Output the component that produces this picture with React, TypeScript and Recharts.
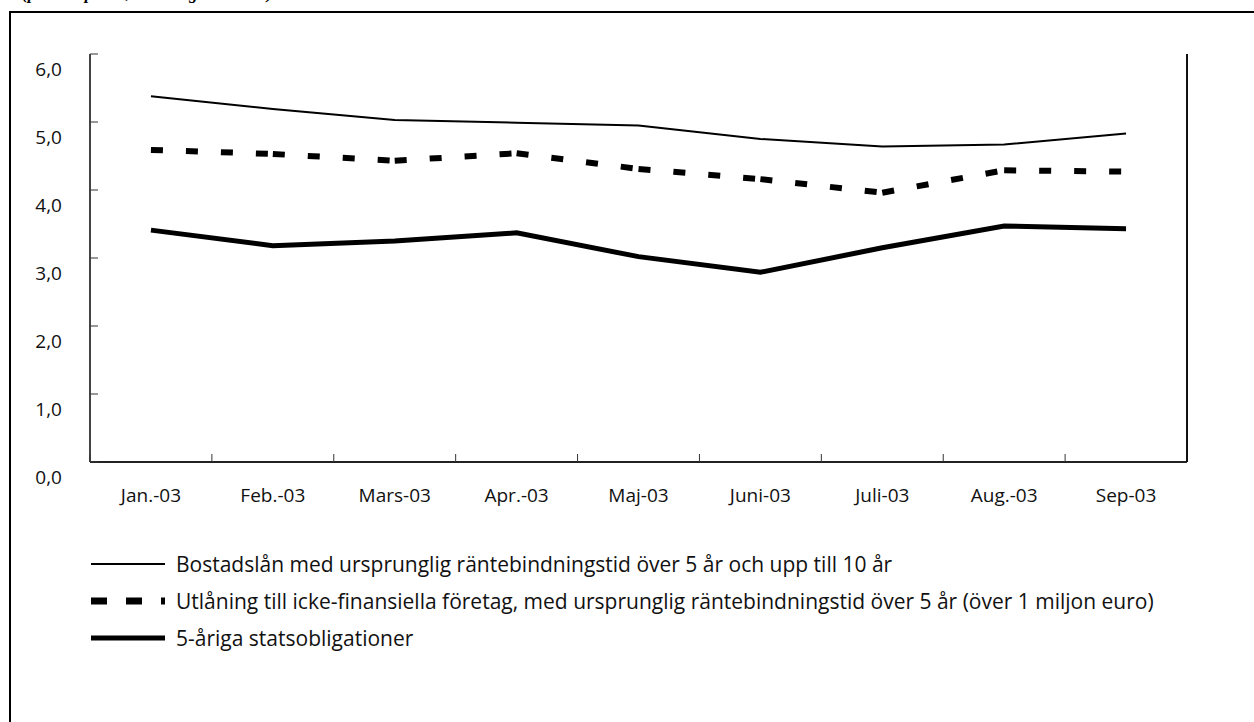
import { LineChart, Line, XAxis, YAxis, Legend } from "recharts";

// ---------------------------------------------------------------------------
// Data (procent per år)
// ---------------------------------------------------------------------------

const months = ["Jan.-03", "Feb.-03", "Mars-03", "Apr.-03", "Maj-03", "Juni-03", "Juli-03", "Aug.-03", "Sep-03"];
const bostadslan = [5.38, 5.19, 5.03, 4.99, 4.95, 4.75, 4.64, 4.67, 4.83];
const utlaning = [4.59, 4.53, 4.43, 4.54, 4.31, 4.16, 3.96, 4.29, 4.27];
const statsobligationer = [3.41, 3.18, 3.25, 3.37, 3.02, 2.79, 3.15, 3.47, 3.43];
const yTicks = [0, 1, 2, 3, 4, 5, 6];

const seriesNames = [
  "Bostadslån med ursprunglig räntebindningstid över 5 år och upp till 10 år",
  "Utlåning till icke-finansiella företag, med ursprunglig räntebindningstid över 5 år (över 1 miljon euro)",
  "5-åriga statsobligationer",
];

// the dashed series is drawn segment by segment so the dash pattern restarts
// at every month, as in the original chart
const segmentKeys = months.slice(1).map((_, k) => `utl${k}`);

const chartData = months.map((month, i) => {
  const row: Record<string, any> = {
    month,
    bostadslan: bostadslan[i],
    statsobligationer: statsobligationer[i],
  };
  segmentKeys.forEach((key, k) => {
    row[key] = i === k || i === k + 1 ? utlaning[i] : null;
  });
  return row;
});

const FONT = "'Open Sans', 'Liberation Sans', Arial, sans-serif";
const DASH = "12 23";

const formatComma = (v: number) => v.toFixed(1).replace(".", ",");

// ---------------------------------------------------------------------------
// Ticks
// ---------------------------------------------------------------------------

function MonthTick(props: any) {
  const { x, y, payload, width } = props;
  const step = width / months.length;
  return (
    <g>
      <line x1={x - step / 2} x2={x - step / 2} y1={y} y2={y - 8} stroke="#333" strokeWidth={1} />
      <text x={x} y={y + 40} textAnchor="middle" fontSize={19} fontFamily={FONT} fill="#111">
        {payload.value}
      </text>
    </g>
  );
}

function LeftTick(props: any) {
  const { x, y, payload } = props;
  return (
    <text x={x} y={y + 22} textAnchor="end" fontSize={19} fontFamily={FONT} fill="#111">
      {formatComma(payload.value)}
    </text>
  );
}

function RightTick(props: any) {
  const { x, y, payload } = props;
  return (
    <text x={x} y={y + 22} textAnchor="start" fontSize={19} fontFamily={FONT} fill="#111">
      {formatComma(payload.value)}
    </text>
  );
}

// ---------------------------------------------------------------------------
// Legend
// ---------------------------------------------------------------------------

function LegendRows() {
  const styles = [
    { strokeWidth: 2, dash: undefined },
    { strokeWidth: 7, dash: "16 19" },
    { strokeWidth: 5, dash: undefined },
  ];
  return (
    <div style={{ fontFamily: FONT, fontSize: 21, color: "#111", whiteSpace: "nowrap" }}>
      {seriesNames.map((name, i) => (
        <div key={name} style={{ display: "flex", alignItems: "center", height: 37 }}>
          <svg width={74} height={12} style={{ marginRight: 11, flex: "none" }}>
            <line x1={0} x2={74} y1={6} y2={6} stroke="#000" strokeWidth={styles[i].strokeWidth} strokeDasharray={styles[i].dash} />
          </svg>
          <span>{name}</span>
        </div>
      ))}
    </div>
  );
}

// ---------------------------------------------------------------------------
// App
// ---------------------------------------------------------------------------

export default function App() {
  return (
    <div style={{ position: "absolute", left: 0, top: 0, width: 1254, height: 722, overflow: "hidden", background: "#fff" }}>
      <div
        style={{
          position: "absolute",
          left: 22,
          top: -16,
          fontFamily: "'Liberation Serif', 'Times New Roman', serif",
          fontStyle: "italic",
          fontWeight: "bold",
          fontSize: 17,
          whiteSpace: "nowrap",
        }}
      >
        (procent per år, månadsgenomsnitt)
      </div>
      <div
        style={{
          position: "absolute",
          left: 9,
          top: 11,
          width: 1400,
          height: 900,
          borderLeft: "2px solid #000",
          borderTop: "2px solid #000",
        }}
      />
      <div style={{ position: "absolute", left: 0, top: 0 }}>
        <LineChart width={1254} height={722} data={chartData} margin={{ top: 54, right: 0, bottom: 220, left: 10 }}>
          <XAxis
            dataKey="month"
            scale="band"
            height={40}
            interval={0}
            tickSize={0}
            tickMargin={0}
            tickLine={false}
            tick={<MonthTick />}
            axisLine={{ stroke: "#222", strokeWidth: 2 }}
          />
          <XAxis
            xAxisId="top"
            dataKey="month"
            orientation="top"
            height={0}
            tick={false}
            tickLine={false}
            axisLine={{ stroke: "#888", strokeWidth: 2 }}
          />
          <YAxis
            yAxisId="left"
            width={80}
            domain={[0, 6]}
            ticks={yTicks}
            tickSize={-8}
            tickMargin={36}
            tick={<LeftTick />}
            tickLine={{ stroke: "#333" }}
            axisLine={{ stroke: "#444", strokeWidth: 2 }}
          />
          <YAxis
            yAxisId="right"
            orientation="right"
            width={67}
            domain={[0, 6]}
            ticks={yTicks}
            tickSize={-8}
            tickMargin={39}
            tick={<RightTick />}
            tickLine={{ stroke: "#333" }}
            axisLine={{ stroke: "#111", strokeWidth: 2 }}
          />
          <Legend
            layout="vertical"
            align="center"
            verticalAlign="middle"
            wrapperStyle={{ top: 545, left: 91, width: 1150 }}
            content={() => <LegendRows />}
          />
          <Line
            yAxisId="left"
            dataKey="bostadslan"
            name={seriesNames[0]}
            stroke="#000"
            strokeWidth={2}
            dot={false}
            isAnimationActive={false}
          />
          {segmentKeys.map((key) => (
            <Line
              key={key}
              yAxisId="left"
              dataKey={key}
              name={seriesNames[1]}
              stroke="#000"
              strokeWidth={6}
              strokeDasharray={DASH}
              strokeLinecap="butt"
              dot={false}
              connectNulls={false}
              isAnimationActive={false}
            />
          ))}
          <Line
            yAxisId="left"
            dataKey="statsobligationer"
            name={seriesNames[2]}
            stroke="#000"
            strokeWidth={5}
            dot={false}
            isAnimationActive={false}
          />
        </LineChart>
      </div>
    </div>
  );
}
